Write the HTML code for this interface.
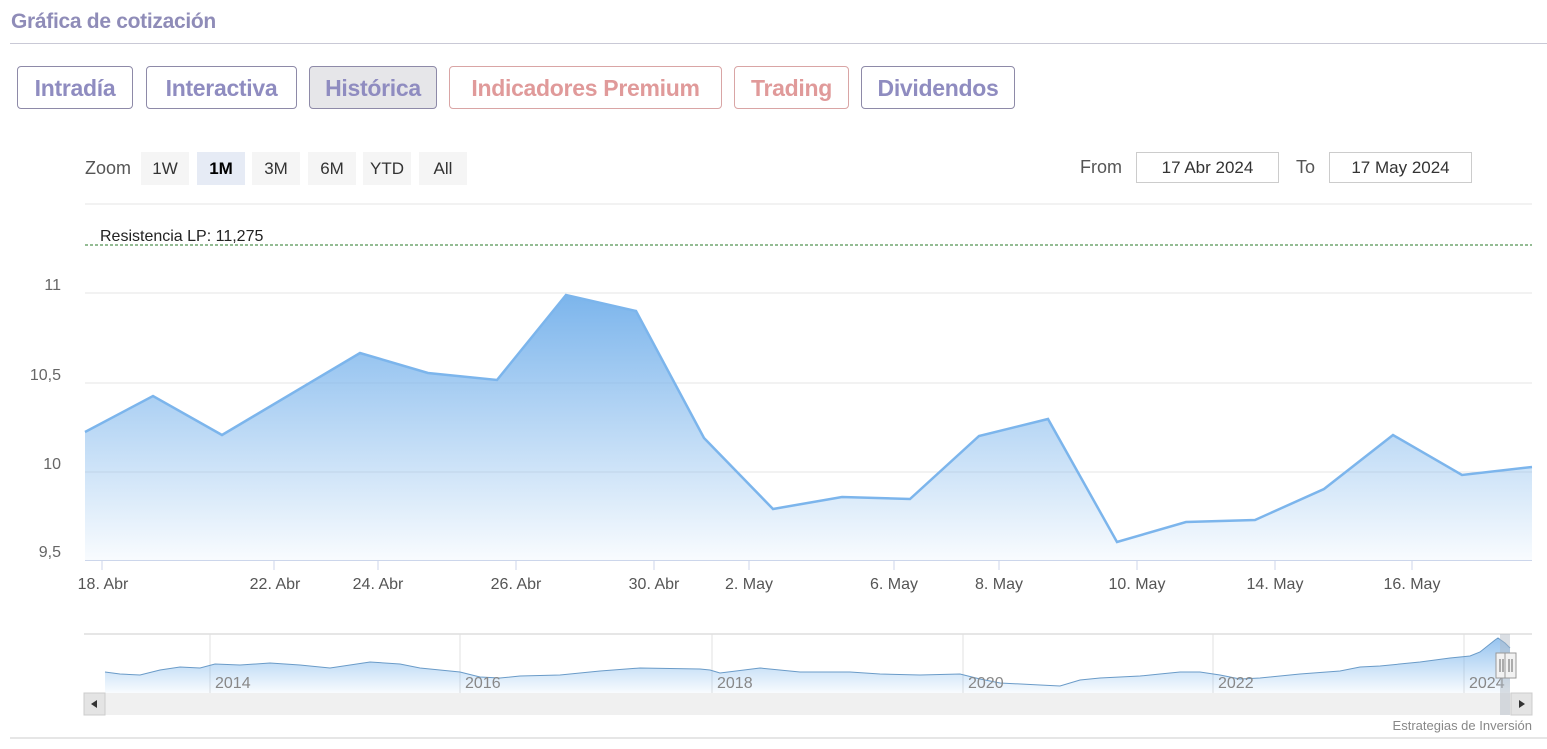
<!DOCTYPE html>
<html><head><meta charset="utf-8"><style>
body{margin:0;background:#fff;width:1547px;height:749px;overflow:hidden;position:relative;font-family:"Liberation Sans",sans-serif}
.t{position:absolute;left:11px;top:10px;font-size:21px;font-weight:bold;color:#8f8cb8;letter-spacing:-0.3px}
.hr{position:absolute;left:10px;width:1537px;height:1px;background:#c9c9d6}
.b{position:absolute;top:66px;height:43px;box-sizing:border-box;border:1px solid #8e8aa8;border-radius:4px;font-size:23px;font-weight:bold;color:#8f8cc0;display:flex;align-items:center;justify-content:center;letter-spacing:-0.3px;padding-top:2px}
.r{border-color:#d9a5a5;color:#e09a9a}
.z{position:absolute;top:152px;height:33px;background:#f5f5f5;font-size:17px;color:#333;display:flex;align-items:center;justify-content:center}
.lbl{position:absolute;font-size:16px;color:#555}
.inp{position:absolute;top:152px;height:31px;box-sizing:border-box;border:1px solid #ccc;font-size:17px;color:#333;display:flex;align-items:center;justify-content:center}
</style></head><body>
<div class="t">Gráfica de cotización</div>
<div class="hr" style="top:43px"></div>
<div class="b" style="left:17px;width:116px">Intradía</div>
<div class="b" style="left:146px;width:151px">Interactiva</div>
<div class="b" style="left:309px;width:128px;background:#e6e6e9">Histórica</div>
<div class="b r" style="left:449px;width:273px">Indicadores Premium</div>
<div class="b r" style="left:734px;width:115px">Trading</div>
<div class="b" style="left:861px;width:154px">Dividendos</div>
<div class="lbl" style="left:85px;top:158px;font-size:18px">Zoom</div>
<div class="z" style="left:141px;width:48px">1W</div>
<div class="z" style="left:197px;width:48px;background:#e6ebf5;font-weight:bold;color:#000">1M</div>
<div class="z" style="left:252px;width:48px">3M</div>
<div class="z" style="left:308px;width:48px">6M</div>
<div class="z" style="left:363px;width:48px">YTD</div>
<div class="z" style="left:419px;width:48px">All</div>
<div class="lbl" style="left:1080px;top:157px;font-size:18px">From</div>
<div class="inp" style="left:1136px;width:143px">17 Abr 2024</div>
<div class="lbl" style="left:1296px;top:157px;font-size:18px">To</div>
<div class="inp" style="left:1329px;width:143px">17 May 2024</div>
<svg width="1547" height="749" style="position:absolute;left:0;top:0" font-family="Liberation Sans, sans-serif">
<defs>
<linearGradient id="g" x1="0" y1="0" x2="0" y2="1"><stop offset="0" stop-color="#7cb5ec"/><stop offset="1" stop-color="#7cb5ec" stop-opacity="0.05"/></linearGradient>
<linearGradient id="g2" x1="0" y1="0" x2="0" y2="1"><stop offset="0" stop-color="#7cb5ec" stop-opacity="0.8"/><stop offset="1" stop-color="#7cb5ec" stop-opacity="0.05"/></linearGradient>
</defs>
<line x1="85" y1="204" x2="1532" y2="204" stroke="#e6e6e6"/>
<line x1="85" y1="293" x2="1532" y2="293" stroke="#e6e6e6"/>
<line x1="85" y1="383" x2="1532" y2="383" stroke="#e6e6e6"/>
<line x1="85" y1="472" x2="1532" y2="472" stroke="#e6e6e6"/>
<line x1="85" y1="245" x2="1532" y2="245" stroke="#2a7a2a" stroke-dasharray="3,2"/>
<text x="100" y="241" font-size="16" fill="#222">Resistencia LP: 11,275</text>
<g font-size="16" fill="#666" text-anchor="end">
<text x="61" y="290">11</text><text x="61" y="380">10,5</text><text x="61" y="469">10</text><text x="61" y="557">9,5</text></g>
<path d="M85,432 L153,396 L222,435 L360,353 L428,373 L497,380 L566,295 L636,311 L704,438 L773,509 L842,497 L910,499 L979,436 L1048,419 L1117,542 L1186,522 L1255,520 L1324,489 L1393,435 L1462,475 L1532,467 L1532,560 L85,560Z" fill="url(#g)"/>
<path d="M85,432 L153,396 L222,435 L360,353 L428,373 L497,380 L566,295 L636,311 L704,438 L773,509 L842,497 L910,499 L979,436 L1048,419 L1117,542 L1186,522 L1255,520 L1324,489 L1393,435 L1462,475 L1532,467" fill="none" stroke="#7cb5ec" stroke-width="2.5"/>
<line x1="85" y1="560.5" x2="1532" y2="560.5" stroke="#ccd6eb"/>
<g stroke="#ccd6eb"><line x1="102" y1="560" x2="102" y2="570"/><line x1="274" y1="560" x2="274" y2="570"/><line x1="378" y1="560" x2="378" y2="570"/><line x1="516" y1="560" x2="516" y2="570"/><line x1="654" y1="560" x2="654" y2="570"/><line x1="749" y1="560" x2="749" y2="570"/><line x1="894" y1="560" x2="894" y2="570"/><line x1="999" y1="560" x2="999" y2="570"/><line x1="1137" y1="560" x2="1137" y2="570"/><line x1="1275" y1="560" x2="1275" y2="570"/><line x1="1412" y1="560" x2="1412" y2="570"/></g>
<g font-size="16" fill="#555" text-anchor="middle">
<text x="103" y="589">18. Abr</text><text x="275" y="589">22. Abr</text><text x="378" y="589">24. Abr</text><text x="516" y="589">26. Abr</text><text x="654" y="589">30. Abr</text><text x="749" y="589">2. May</text><text x="894" y="589">6. May</text><text x="999" y="589">8. May</text><text x="1137" y="589">10. May</text><text x="1275" y="589">14. May</text><text x="1412" y="589">16. May</text></g>
<line x1="84" y1="634" x2="1532" y2="634" stroke="#ccc"/>
<g stroke="#e0e0e0"><line x1="210" y1="634" x2="210" y2="693"/><line x1="460" y1="634" x2="460" y2="693"/><line x1="712" y1="634" x2="712" y2="693"/><line x1="963" y1="634" x2="963" y2="693"/><line x1="1213" y1="634" x2="1213" y2="693"/><line x1="1464" y1="634" x2="1464" y2="693"/></g>
<path d="M105,672 L120,674 L140,675 L160,670 L180,667 L200,668 L215,664 L240,665 L270,663 L300,665 L330,668 L370,662 L400,664 L420,668 L460,672 L480,677 L500,678 L520,676 L560,675 L600,671 L640,668 L700,669 L710,670 L720,673 L760,668 L800,672 L850,672 L880,674 L920,675 L960,674 L980,679 L1000,683 L1040,685 L1060,686 L1080,680 L1100,678 L1140,676 L1160,674 L1180,672 L1200,672 L1220,675 L1240,679 L1260,678 L1300,674 L1340,671 L1360,667 L1380,666 L1420,662 L1450,658 L1470,656 L1480,652 L1495,640 L1498,638 L1505,643 L1510,648 L1510,693 L105,693Z" fill="url(#g2)"/>
<path d="M105,672 L120,674 L140,675 L160,670 L180,667 L200,668 L215,664 L240,665 L270,663 L300,665 L330,668 L370,662 L400,664 L420,668 L460,672 L480,677 L500,678 L520,676 L560,675 L600,671 L640,668 L700,669 L710,670 L720,673 L760,668 L800,672 L850,672 L880,674 L920,675 L960,674 L980,679 L1000,683 L1040,685 L1060,686 L1080,680 L1100,678 L1140,676 L1160,674 L1180,672 L1200,672 L1220,675 L1240,679 L1260,678 L1300,674 L1340,671 L1360,667 L1380,666 L1420,662 L1450,658 L1470,656 L1480,652 L1495,640 L1498,638 L1505,643 L1510,648" fill="none" stroke="#6a9bc8" stroke-width="1"/>
<g font-size="16" fill="#888"><text x="215" y="688">2014</text><text x="465" y="688">2016</text><text x="717" y="688">2018</text><text x="968" y="688">2020</text><text x="1218" y="688">2022</text><text x="1469" y="688">2024</text></g>
<rect x="84" y="693" width="1448" height="22" fill="#f0f0f0"/>
<rect x="84" y="693" width="21" height="22" fill="#e4e4e4" stroke="#ccc"/>
<path d="M97,700 L91,704 L97,708Z" fill="#333"/>
<rect x="1511" y="693" width="21" height="22" fill="#e4e4e4" stroke="#ccc"/>
<path d="M1519,700 L1525,704 L1519,708Z" fill="#333"/>
<rect x="1500" y="634" width="10" height="81" fill="#b0b8c4" opacity="0.45"/>
<rect x="1496" y="653" width="11" height="25" fill="#f2f2f2" stroke="#999"/>
<rect x="1505" y="653" width="11" height="25" fill="#f2f2f2" stroke="#999"/>
<g stroke="#666"><line x1="1500" y1="659" x2="1500" y2="672"/><line x1="1503" y1="659" x2="1503" y2="672"/><line x1="1509" y1="659" x2="1509" y2="672"/><line x1="1512" y1="659" x2="1512" y2="672"/></g>
<text x="1532" y="730" font-size="13" fill="#888" text-anchor="end">Estrategias de Inversión</text>
<line x1="10" y1="738" x2="1547" y2="738" stroke="#ccc"/>
</svg>
</body></html>
